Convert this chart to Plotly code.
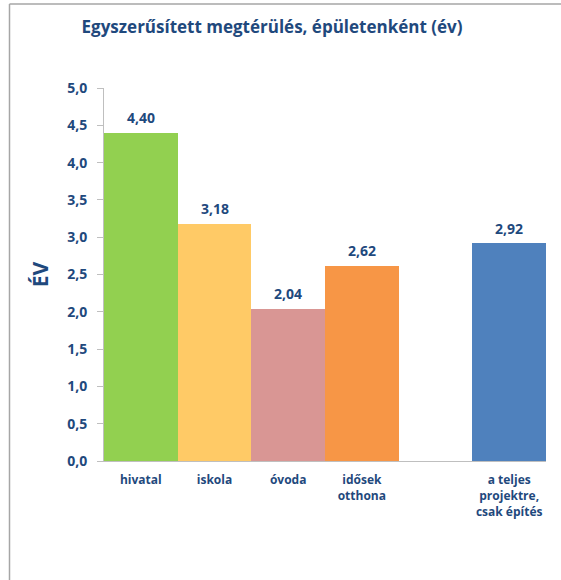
import plotly.graph_objects as go

categories = ["hivatal", "iskola", "óvoda", "idősek<br>otthona", "", "a teljes<br>projektre,<br>csak építés"]
values = [4.40, 3.18, 2.04, 2.62, None, 2.92]
colors = ["#92D050", "#FFCA66", "#D99694", "#F79646", "#FFFFFF", "#4F81BD"]
y_ticks = [0, 0.5, 1.0, 1.5, 2.0, 2.5, 3.0, 3.5, 4.0, 4.5, 5.0]

title_text = "Egyszerűsített megtérülés, épületenként (év)"
y_title = "ÉV"

TXT = "#1F497D"
FONT = "Open Sans"

xpos = list(range(len(categories)))

fig = go.Figure()
fig.add_trace(go.Bar(
    x=xpos, y=values, width=1.0,
    marker=dict(color=colors, line=dict(width=0)),
    hoverinfo="skip",
))

for xi, v in zip(xpos, values):
    if v is None:
        continue
    fig.add_annotation(
        x=xi, y=v, xref="x", yref="y",
        text=f"{v:.2f}".replace(".", ","),
        showarrow=False, yanchor="middle", yshift=15,
        font=dict(family=FONT, size=14, color=TXT, weight="bold"),
    )

W, H = 561, 580
L, R, T, B = 104, 15, 88, 119
pw = W - L - R
ph = H - T - B

def px_to_paper_x(px):
    return (px - L) / pw

def px_to_paper_y(py):
    return (H - B - py) / ph

fig.update_layout(
    width=W, height=H,
    margin=dict(l=L, r=R, t=T, b=B),
    paper_bgcolor="white", plot_bgcolor="white",
    separators=", ",
    showlegend=False,
    bargap=0,
    title=dict(text=title_text, x=272 / W, xref="container", xanchor="center",
               y=1 - 27 / H, yref="container", yanchor="middle",
               font=dict(family=FONT, size=17, color=TXT, weight="bold")),
    xaxis=dict(
        range=[-0.5, len(categories) - 0.5],
        tickvals=xpos, ticktext=categories,
        showgrid=False, zeroline=False,
        showline=True, linecolor="#BFBFBF", linewidth=1,
        ticks="", ticklen=0, ticklabelstandoff=8,
        tickfont=dict(family=FONT, size=12, color=TXT, weight="bold"),
        fixedrange=True,
    ),
    yaxis=dict(
        range=[0, 5.0], tickvals=y_ticks, tickformat=".1f",
        showgrid=False, zeroline=False,
        showline=True, linecolor="#BFBFBF", linewidth=1,
        ticks="outside", ticklen=6, tickcolor="#BFBFBF",
        ticklabelstandoff=7,
        tickfont=dict(family=FONT, size=14, color=TXT, weight="bold"),
        title=dict(text=y_title, standoff=12,
                   font=dict(family=FONT, size=21, color=TXT, weight="bold")),
        fixedrange=True,
    ),
    shapes=[
        dict(type="line", xref="paper", yref="paper",
             x0=px_to_paper_x(9.5), x1=px_to_paper_x(561),
             y0=px_to_paper_y(4), y1=px_to_paper_y(4),
             line=dict(color="#A6A6A6", width=1.5)),
        dict(type="line", xref="paper", yref="paper",
             x0=px_to_paper_x(9.5), x1=px_to_paper_x(9.5),
             y0=px_to_paper_y(4), y1=px_to_paper_y(580),
             line=dict(color="#A6A6A6", width=1.5)),
    ],
)

fig.write_html("out.html",
               config={"displayModeBar": False},
               post_script="document.body.style.margin='0';document.body.style.padding='0';")
